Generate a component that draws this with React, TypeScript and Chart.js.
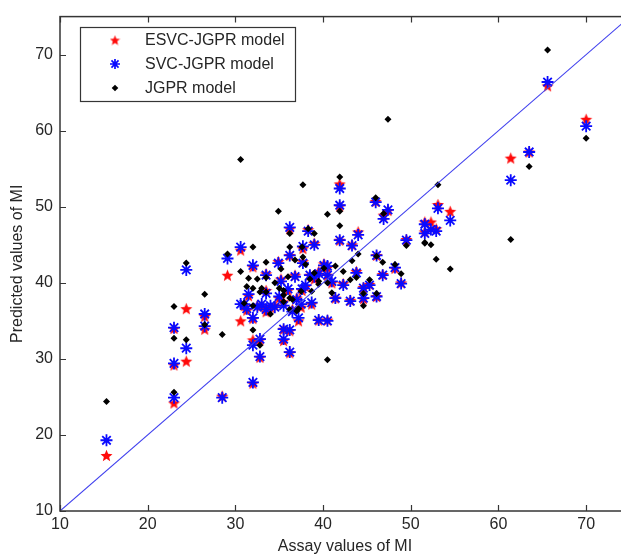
import React, { useEffect, useRef } from "react";
import { Chart, registerables } from "chart.js";
Chart.register(...registerables);

// ---- data ----
const assayValues = [
  15.3, 23.0, 23.0, 23.0, 24.4, 24.4, 26.5, 26.5, 28.5, 29.1,
  30.6, 30.6, 31.0, 31.3, 32.0, 32.0, 32.0, 32.8, 32.8, 32.0,
  33.5, 33.5, 35.5, 36.2, 35.5, 36.2, 36.2, 36.2, 38.3, 37.7,
  34.9, 37.7, 39.0, 37.6, 41.9, 41.9, 41.9, 43.3, 44.0, 46.0,
  46.9, 47.4, 46.1, 46.8, 48.2, 48.9, 49.5, 51.6, 51.6, 52.3,
  52.9, 53.1, 54.5, 61.4, 63.5, 65.6, 70.0, 42.3, 45.3, 44.6,
  44.6, 46.1, 43.1, 41.4, 39.5, 40.5, 40.1, 38.5, 39.0, 39.5,
  40.5, 34.5, 35.0, 35.5, 36.0, 36.5, 37.0, 37.5, 38.0, 33.0,
  34.0, 33.5, 35.2, 36.8, 37.2, 38.7, 43.8, 41.0, 31.5, 32.5,
  40.5,
];
const esvcPred = [
  17.3, 34.0, 29.2, 24.2, 36.6, 29.7, 35.6, 33.9, 25.1, 41.0,
  44.3, 35.0, 37.0, 36.4, 42.1, 32.5, 26.8, 32.5, 30.2, 35.3,
  41.2, 36.2, 33.9, 33.7, 32.4, 30.8, 43.6, 47.1, 47.0, 44.5,
  42.8, 42.8, 45.2, 39.0, 53.0, 50.1, 45.6, 45.0, 46.7, 50.7,
  48.9, 49.5, 43.6, 41.1, 41.9, 40.0, 45.7, 48.0, 46.7, 48.0,
  47.1, 50.3, 49.4, 56.4, 57.2, 65.9, 61.5, 39.9, 39.8, 39.4,
  37.9, 38.2, 37.7, 38.0, 35.1, 35.1, 42.5, 41.0, 40.5, 41.5,
  41.0, 37.0, 38.0, 37.5, 39.0, 36.5, 38.0, 36.8, 39.5, 37.0,
  36.8, 39.0, 40.5, 41.0, 35.0, 37.2, 41.5, 40.0, 38.3, 37.0,
  42.0,
];
const svcPred = [
  19.3, 34.1, 29.4, 24.9, 41.7, 31.4, 35.9, 34.3, 24.9, 43.2,
  44.7, 37.2, 37.2, 36.6, 42.3, 31.8, 26.9, 32.6, 30.3, 35.4,
  41.0, 36.5, 33.9, 33.8, 32.6, 30.9, 43.6, 47.3, 46.8, 44.8,
  42.6, 42.6, 45.0, 39.2, 52.4, 50.2, 45.6, 44.9, 46.3, 50.6,
  48.4, 49.6, 43.6, 41.0, 42.0, 39.9, 45.6, 47.7, 46.5, 47.0,
  46.8, 49.8, 48.2, 53.5, 57.2, 66.4, 60.6, 39.7, 39.7, 39.3,
  38.0, 38.2, 37.6, 38.0, 35.1, 35.0, 42.3, 41.0, 40.8, 41.2,
  41.0, 36.8, 38.2, 37.0, 39.2, 36.2, 37.8, 37.2, 39.7, 37.2,
  37.0, 38.6, 40.2, 40.8, 35.4, 37.4, 41.3, 40.2, 38.5, 36.8,
  42.2,
];
const jgprPred = [
  24.4, 36.9, 32.7, 25.6, 42.6, 32.5, 38.5, 34.5, 33.2, 43.8,
  56.2, 41.5, 37.3, 39.5, 44.7, 33.8, 39.3, 31.8, 38.8, 37.0,
  42.7, 38.8, 39.0, 38.0, 37.5, 36.5, 44.7, 46.5, 47.1, 52.9,
  49.4, 43.4, 46.5, 44.7, 53.9, 49.4, 47.5, 42.9, 43.8, 51.2,
  49.1, 61.5, 43.5, 42.7, 42.4, 41.2, 44.9, 45.3, 45.2, 45.0,
  43.1, 52.9, 41.8, 45.7, 55.3, 70.6, 59.0, 41.5, 40.4, 38.6,
  37.0, 38.6, 40.4, 42.2, 40.2, 29.9, 41.9, 40.5, 41.3, 39.8,
  40.0, 40.0, 39.3, 38.4, 40.8, 37.8, 36.3, 38.9, 42.4, 39.3,
  35.9, 40.7, 41.8, 43.0, 36.6, 38.9, 40.7, 38.7, 40.6, 40.5,
  49.0,
];
const seriesNames = ["ESVC-JGPR model", "SVC-JGPR model", "JGPR model"];
const xTickValues = [10, 20, 30, 40, 50, 60, 70];
const yTickValues = [10, 20, 30, 40, 50, 60, 70];
const axisRange = [10, 75];
const xTitle = "Assay values of MI";
const yTitle = "Predicted values of MI";

const FONT = "'Liberation Sans', Arial, Helvetica, sans-serif";
const TEXT = "#262626";
const AXIS = "#353535";
const RED = "#ff0a0a";
const BLUE = "#0a0aff";

function makePentagram(size: number, color: string) {
  const c = document.createElement("canvas");
  c.width = size;
  c.height = size;
  const ctx = c.getContext("2d")!;
  const cx = size / 2;
  const cy = size / 2 + 0.6;
  const R = size / 2 - 0.2;
  const r = R * 0.44;
  ctx.beginPath();
  for (let i = 0; i < 10; i++) {
    const a = -Math.PI / 2 + (i * Math.PI) / 5;
    const rad = i % 2 === 0 ? R : r;
    ctx.lineTo(cx + rad * Math.cos(a), cy + rad * Math.sin(a));
  }
  ctx.closePath();
  ctx.fillStyle = color;
  ctx.fill();
  return c;
}

function drawAsterisk(ctx: CanvasRenderingContext2D, x: number, y: number, r: number, color: string) {
  ctx.save();
  ctx.strokeStyle = color;
  ctx.lineWidth = 1.7;
  ctx.beginPath();
  ctx.moveTo(x - r, y); ctx.lineTo(x + r, y);
  ctx.moveTo(x, y - r); ctx.lineTo(x, y + r);
  const d = r * 0.7071;
  ctx.moveTo(x - d, y - d); ctx.lineTo(x + d, y + d);
  ctx.moveTo(x - d, y + d); ctx.lineTo(x + d, y - d);
  ctx.stroke();
  ctx.restore();
}

function drawDiamond(ctx: CanvasRenderingContext2D, x: number, y: number, r: number, color: string) {
  ctx.save();
  ctx.fillStyle = color;
  ctx.beginPath();
  ctx.moveTo(x, y - r); ctx.lineTo(x + r, y); ctx.lineTo(x, y + r); ctx.lineTo(x - r, y);
  ctx.closePath();
  ctx.fill();
  ctx.restore();
}

export default function App() {
  const ref = useRef<HTMLCanvasElement | null>(null);

  useEffect(() => {
    if (!ref.current) return;
    const star = makePentagram(13, RED);
    const legendStar = makePentagram(11, RED);

    const frame = {
      id: "matlabFrame",
      afterDatasetsDraw(chart: any) {
        const { ctx, chartArea: a, scales } = chart;
        ctx.save();
        ctx.strokeStyle = AXIS;
        ctx.lineWidth = 1.5;
        ctx.strokeRect(a.left, a.top, a.right - a.left, a.bottom - a.top);
        ctx.lineWidth = 1.2;
        ctx.beginPath();
        for (const v of xTickValues) {
          const px = Math.round(scales.x.getPixelForValue(v)) + 0.5;
          ctx.moveTo(px, a.bottom); ctx.lineTo(px, a.bottom - 6);
          ctx.moveTo(px, a.top); ctx.lineTo(px, a.top + 6);
        }
        for (const v of yTickValues) {
          const py = Math.round(scales.y.getPixelForValue(v)) + 0.5;
          ctx.moveTo(a.left, py); ctx.lineTo(a.left + 6, py);
          ctx.moveTo(a.right, py); ctx.lineTo(a.right - 6, py);
        }
        ctx.stroke();

        // legend
        const lx = 80, ly = 27, lw = 215, lh = 74;
        ctx.fillStyle = "#fff";
        ctx.fillRect(lx, ly, lw, lh);
        ctx.strokeStyle = AXIS;
        ctx.lineWidth = 1.2;
        ctx.strokeRect(lx + 0.5, ly + 0.5, lw, lh);
        const rows = [40, 64, 88];
        ctx.drawImage(legendStar, 115 - 5.5, rows[0] - 5.5);
        drawAsterisk(ctx, 115, rows[1], 5, BLUE);
        drawDiamond(ctx, 115, rows[2], 3.3, "#000");
        ctx.fillStyle = TEXT;
        ctx.font = `16px ${FONT}`;
        ctx.textBaseline = "middle";
        ctx.textAlign = "left";
        seriesNames.forEach((n, i) => ctx.fillText(n, 145, rows[i] + 1));
        ctx.restore();
      },
    };

    const pts = (ys: number[]) => assayValues.map((x, i) => ({ x, y: ys[i] }));

    const chart = new Chart(ref.current, {
      type: "scatter",
      data: {
        datasets: [
          {
            label: seriesNames[0],
            data: pts(esvcPred),
            pointStyle: star as any,
            pointRadius: 6.5,
            order: 4,
          },
          {
            label: seriesNames[1],
            data: pts(svcPred),
            pointStyle: "star",
            pointRadius: 6,
            borderColor: BLUE,
            backgroundColor: BLUE,
            borderWidth: 1.8,
            order: 3,
          },
          {
            label: seriesNames[2],
            data: pts(jgprPred),
            pointStyle: "rectRot",
            pointRadius: 3.5,
            backgroundColor: "#000",
            borderColor: "#000",
            borderWidth: 0,
            order: 2,
          },
          {
            type: "line",
            label: "y = x",
            data: axisRange.map((v) => ({ x: v, y: v })),
            borderColor: "#4040ee",
            borderWidth: 1.1,
            pointRadius: 0,
            fill: false,
            order: 1,
          } as any,
        ],
      },
      options: {
        responsive: false,
        devicePixelRatio: 1,
        animation: false,
        layout: { padding: { top: 14, right: 10, left: 0, bottom: 0 } },
        plugins: { legend: { display: false }, tooltip: { enabled: false } },
        scales: {
          x: {
            type: "linear",
            min: axisRange[0],
            max: axisRange[1],
            afterFit: (s: any) => { s.height = 45; },
            afterBuildTicks: (s: any) => { s.ticks = xTickValues.map((v) => ({ value: v })); },
            grid: { display: false, drawTicks: false },
            border: { display: false },
            ticks: { padding: 4, color: TEXT, font: { family: FONT, size: 16 }, maxRotation: 0 },
            title: {
              display: true, text: xTitle, color: TEXT,
              font: { family: FONT, size: 16 }, padding: { top: 0, bottom: 0 },
            },
          },
          y: {
            type: "linear",
            min: axisRange[0],
            max: axisRange[1],
            afterFit: (s: any) => { s.width = 60; },
            afterBuildTicks: (s: any) => { s.ticks = yTickValues.map((v) => ({ value: v })); },
            grid: { display: false, drawTicks: false },
            border: { display: false },
            ticks: { padding: 7, color: TEXT, font: { family: FONT, size: 16 } },
            title: {
              display: true, text: yTitle, color: TEXT,
              font: { family: FONT, size: 16 }, padding: { top: 8, bottom: 0 },
            },
          },
        },
      },
      plugins: [frame as any],
    });
    return () => chart.destroy();
  }, []);

  return (
    <div style={{ position: "fixed", left: 0, top: 0, width: 621, height: 556, overflow: "hidden", background: "#fff" }}>
      <canvas ref={ref} width={640} height={556} style={{ display: "block", width: 640, height: 556 }} />
    </div>
  );
}
